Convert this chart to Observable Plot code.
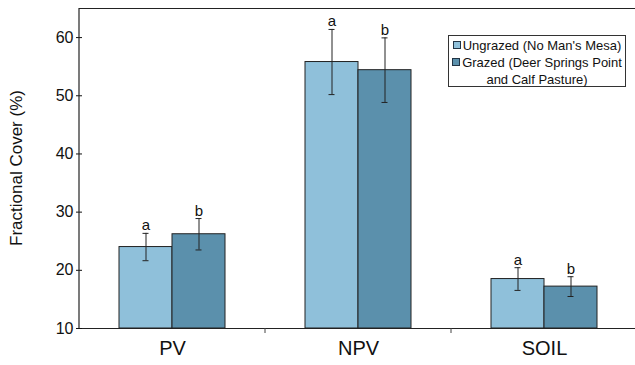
<!DOCTYPE html>
<html>
<head>
<meta charset="utf-8">
<script src="https://cdn.jsdelivr.net/npm/d3@7"></script>
<script src="https://cdn.jsdelivr.net/npm/@observablehq/plot@0.6"></script>
<style>
  body { margin: 0; background: #fff; font-family: "Liberation Sans", Arial, sans-serif; }
  #wrap { position: relative; width: 635px; height: 365px; }
  #legend { position: absolute; left: 448px; top: 35px; width: 178px; height: 52px; border: 1px solid #333;
    background: #fff; font-size: 13px; line-height: 17px; color: #111; text-align: center; box-sizing: border-box; padding-top: 1px; }
  .sw { display: inline-block; width: 6px; height: 6px; border: 1px solid #234; margin-right: 2px; vertical-align: 1px; }
</style>
</head>
<body>
<div id="wrap"></div>
<script>
const categories = ["PV", "NPV", "SOIL"];
const groups = ["Ungrazed", "Grazed"];
const groupLabels = ["Ungrazed (No Man's Mesa)", "Grazed (Deer Springs Point and Calf Pasture)"];
const ungrazedMean = [24.0, 55.8, 18.5];
const ungrazedErr = [2.35, 5.6, 1.95];
const grazedMean = [26.2, 54.4, 17.2];
const grazedErr = [2.7, 5.55, 1.7];
const letters = ["a", "b"];
const yTicks = [10, 20, 30, 40, 50, 60];
const colors = ["#8fc0da", "#5b90ac"];

const data = [];
categories.forEach((c, i) => {
  data.push({cat: c, group: groups[0], mean: ungrazedMean[i], err: ungrazedErr[i], letter: letters[0]});
  data.push({cat: c, group: groups[1], mean: grazedMean[i], err: grazedErr[i], letter: letters[1]});
});

const plot = Plot.plot({
  width: 635,
  height: 365,
  marginLeft: 78,
  marginTop: 8,
  marginBottom: 37,
  marginRight: -2,
  style: {fontFamily: "'Liberation Sans', Arial, sans-serif", color: "#111", background: "transparent"},
  fx: {domain: categories, padding: 0, label: null},
  x: {domain: groups, paddingInner: 0, paddingOuter: 0.743, axis: null},
  y: {domain: [10, 65], label: null},
  color: {domain: groups, range: colors},
  marks: [
    Plot.ruleY([65], {stroke: "#222", strokeWidth: 1}),
    Plot.barY(data, {fx: "cat", x: "group", y1: 10, y2: "mean", fill: "group", stroke: "#222", strokeWidth: 1}),
    Plot.ruleX(data, {fx: "cat", x: "group", y1: d => d.mean - d.err, y2: d => d.mean + d.err, stroke: "#222", strokeWidth: 1}),
    Plot.tickY(data, {fx: "cat", x: "group", y: d => d.mean + d.err, stroke: "#222", insetLeft: 23.5, insetRight: 23.5}),
    Plot.tickY(data, {fx: "cat", x: "group", y: d => d.mean - d.err, stroke: "#222", insetLeft: 23.5, insetRight: 23.5}),
    Plot.text(data, {fx: "cat", x: "group", y: d => d.mean + d.err, text: "letter", lineAnchor: "bottom", dy: -3, fontSize: 15, fill: "#111"}),
    Plot.ruleY([10], {stroke: "#222", strokeWidth: 1.2}),
    Plot.axisY({ticks: yTicks, tickSize: 6, dx: 3, tickPadding: 3, fontSize: 16, label: null}),
    Plot.axisFx({anchor: "bottom", tickSize: 0, tickPadding: 12, fontSize: 20, label: null})
  ]
});

document.getElementById("wrap").appendChild(plot);

// frame left line and category separator ticks, positioned from Plot's scales
const fx = plot.scale("fx");
const y = plot.scale("y");
const svg = d3.select(plot);
const x0 = fx.apply(categories[0]);
svg.append("line").attr("x1", x0).attr("x2", x0).attr("y1", y.apply(65)).attr("y2", y.apply(10))
  .attr("stroke", "#222").attr("stroke-width", 1.2);
categories.slice(1).forEach(c => {
  const xs = fx.apply(c);
  svg.append("line").attr("x1", xs).attr("x2", xs).attr("y1", y.apply(10)).attr("y2", y.apply(10) + 5)
    .attr("stroke", "#444").attr("stroke-width", 1);
});
// y-axis label
svg.append("text").attr("transform", `translate(18,${(y.apply(10) + y.apply(65)) / 2}) rotate(-90)`)
  .attr("text-anchor", "middle").attr("dominant-baseline", "middle")
  .attr("font-size", 17).attr("fill", "#111").attr("font-family", "'Liberation Sans', Arial, sans-serif")
  .text("Fractional Cover (%)");

// legend
const lg = document.createElement("div");
lg.id = "legend";
lg.innerHTML = `<div><span class="sw" style="background:${colors[0]}"></span>${groupLabels[0]}</div>` +
  `<div><span class="sw" style="background:${colors[1]}"></span>Grazed (Deer Springs Point<br>and Calf Pasture)</div>`;
document.getElementById("wrap").appendChild(lg);
</script>
</body>
</html>
